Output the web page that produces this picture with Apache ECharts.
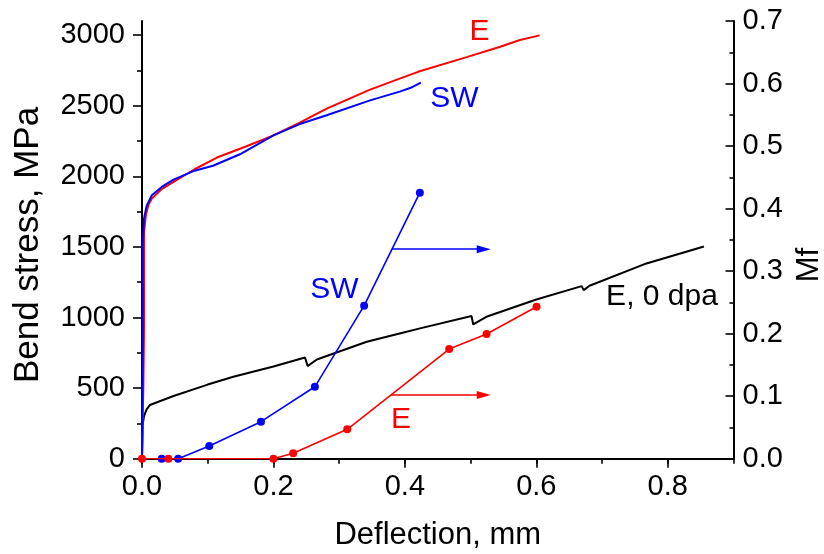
<!DOCTYPE html>
<html>
<head>
<meta charset="utf-8">
<script src="https://cdn.jsdelivr.net/npm/echarts@6/dist/echarts.min.js"></script>
<style>
  html, body { margin: 0; padding: 0; background: #fff; }
  #chart { width: 824px; height: 554px; }
</style>
</head>
<body>
<div id="chart"></div>
<script>
// Bend stress vs deflection (left axis) and martensite fraction Mf (right axis)

// Stress curves, [deflection mm, stress MPa]
const stressE = [
  [0, 0], [0.002, 500], [0.003, 900], [0.003, 1300], [0.003, 1600], [0.006, 1730],
  [0.010, 1800], [0.015, 1842], [0.030, 1910], [0.048, 1960], [0.080, 2050],
  [0.114, 2133], [0.160, 2215], [0.200, 2290], [0.240, 2380], [0.281, 2479],
  [0.347, 2614], [0.392, 2692], [0.420, 2740], [0.494, 2844], [0.545, 2918],
  [0.575, 2965], [0.605, 2998]
];
const stressSW = [
  [0, 0], [0.001, 800], [0.001, 1500], [0.003, 1700], [0.007, 1790], [0.015, 1866],
  [0.030, 1925], [0.048, 1977], [0.080, 2040], [0.108, 2075], [0.149, 2156],
  [0.200, 2290], [0.240, 2370], [0.281, 2432], [0.347, 2538], [0.392, 2600],
  [0.408, 2625], [0.4243, 2663]
];
const stressE0dpa = [
  [0, 0], [0.001, 240], [0.003, 300], [0.007, 350], [0.012, 380], [0.048, 444],
  [0.100, 525], [0.139, 580], [0.200, 653], [0.248, 717], [0.252, 656],
  [0.266, 703], [0.342, 828], [0.392, 887], [0.423, 923], [0.5014, 1010],
  [0.504, 951], [0.524, 1005], [0.600, 1128], [0.669, 1222], [0.672, 1194],
  [0.681, 1225], [0.7676, 1383], [0.855, 1503]
];

// Martensite fraction, [deflection mm, Mf]
const mfSW = [
  [0.030, 0], [0.055, 0], [0.1024, 0.0203], [0.181, 0.0592], [0.263, 0.115],
  [0.338, 0.2447], [0.4228, 0.4254]
];
const mfE = [
  [0, 0], [0.040, 0], [0.200, 0], [0.230, 0.0086], [0.3123, 0.047],
  [0.4674, 0.1754], [0.5243, 0.1994], [0.6003, 0.243]
];

// Arrows pointing toward the Mf axis: [Mf level, start deflection, end deflection]
const arrowSW = [0.335, 0.3804, 0.52];
const arrowE = [0.102, 0.3787, 0.52];

// Stress-axis tick values
const yMajor = [0, 500, 1000, 1500, 2000, 2500, 3000];
const yMinor = [250, 750, 1250, 1750, 2250, 2750];

const FONT = "'Liberation Sans', Arial, Helvetica, sans-serif";
const RED = '#ff0000';
const BLUE = '#0000ff';
const BLACK = '#000000';

const chart = echarts.init(document.getElementById('chart'), null, { renderer: 'canvas' });

function arrowLine(a, color) {
  return {
    silent: true,
    symbol: ['none', 'triangle'],
    symbolSize: [8, 14],
    label: { show: false },
    lineStyle: { color: color, width: 1.6, type: 'solid' },
    emphasis: { disabled: true },
    data: [[{ coord: [a[1], a[0]] }, { coord: [a[2], a[0]] }]]
  };
}

function tickStyle() {
  return { color: BLACK, width: 1.6 };
}

const option = {
  animation: false,
  backgroundColor: '#ffffff',
  textStyle: { fontFamily: FONT },
  grid: { left: 142, right: 90.5, top: 21, bottom: 95.3, outerBoundsMode: 'none', containLabel: false },
  xAxis: [
    {
      // minor ticks every 0.1 (the long major ticks are drawn over them)
      type: 'value', min: 0, max: 0.9, interval: 0.1, position: 'bottom',
      axisLine: { show: false, onZero: false },
      axisTick: { show: true, length: 5, lineStyle: tickStyle() },
      axisLabel: { show: false },
      splitLine: { show: false }
    },
    {
      type: 'value', min: 0, max: 0.9, interval: 0.2, position: 'bottom',
      name: 'Deflection, mm', nameLocation: 'middle', nameGap: 61,
      nameTextStyle: { fontSize: 31, color: BLACK, fontFamily: FONT },
      axisLine: { show: true, onZero: false, lineStyle: { color: BLACK, width: 2 } },
      axisTick: { show: true, length: 9, lineStyle: tickStyle() },
      axisLabel: { fontSize: 29, color: BLACK, fontFamily: FONT, margin: 14,
        showMaxLabel: false, formatter: v => v.toFixed(1) },
      splitLine: { show: false }
    }
  ],
  yAxis: [
    {
      type: 'value', min: 0, max: 3100, position: 'left',
      axisLine: { show: true, onZero: false, lineStyle: { color: BLACK, width: 2 } },
      axisTick: { show: true, customValues: yMajor, length: 9, lineStyle: tickStyle() },
      axisLabel: { customValues: yMajor, fontSize: 29, color: BLACK, fontFamily: FONT, margin: 17,
        formatter: v => String(v) },
      splitLine: { show: false }
    },
    {
      type: 'value', min: 0, max: 0.7, interval: 0.1, position: 'right',
      axisLine: { show: true, onZero: false, lineStyle: { color: BLACK, width: 2 } },
      axisTick: { show: true, inside: true, length: 8, lineStyle: tickStyle() },
      minorTick: { show: true, splitNumber: 2, length: 4, lineStyle: tickStyle() },
      axisLabel: { fontSize: 29, color: BLACK, fontFamily: FONT, margin: 9,
        formatter: v => v.toFixed(1) },
      splitLine: { show: false }
    },
    {
      // minor ticks of the stress axis
      type: 'value', min: 0, max: 3100, position: 'left',
      axisLine: { show: false, onZero: false },
      axisTick: { show: true, customValues: yMinor, length: 5, lineStyle: tickStyle() },
      axisLabel: { show: false },
      splitLine: { show: false }
    }
  ],
  series: [
    {
      name: 'E, 0 dpa', type: 'line', xAxisIndex: 1, yAxisIndex: 0, data: stressE0dpa,
      showSymbol: false, symbol: 'none', lineStyle: { color: BLACK, width: 2 }, z: 2
    },
    {
      name: 'E stress', type: 'line', xAxisIndex: 1, yAxisIndex: 0, data: stressE,
      showSymbol: false, symbol: 'none', lineStyle: { color: RED, width: 2 }, z: 3
    },
    {
      name: 'SW stress', type: 'line', xAxisIndex: 1, yAxisIndex: 0, data: stressSW,
      showSymbol: false, symbol: 'none', lineStyle: { color: BLUE, width: 2 }, z: 4
    },
    {
      name: 'SW Mf', type: 'line', xAxisIndex: 1, yAxisIndex: 1, data: mfSW,
      symbol: 'circle', symbolSize: 8, itemStyle: { color: BLUE },
      lineStyle: { color: BLUE, width: 1.6 }, z: 5,
      markLine: arrowLine(arrowSW, BLUE)
    },
    {
      name: 'E Mf', type: 'line', xAxisIndex: 1, yAxisIndex: 1, data: mfE,
      symbol: 'circle', symbolSize: 8, itemStyle: { color: RED },
      lineStyle: { color: RED, width: 1.6 }, z: 6,
      markLine: arrowLine(arrowE, RED)
    }
  ],
  graphic: [
    // axis titles
    { type: 'text', x: 28, y: 245, rotation: Math.PI / 2,
      style: { text: 'Bend stress, MPa', fill: BLACK, font: `35px ${FONT}`, textAlign: 'center', textVerticalAlign: 'middle' } },
    { type: 'text', x: 809, y: 265, rotation: Math.PI / 2,
      style: { text: 'Mf', fill: BLACK, font: `31px ${FONT}`, textAlign: 'center', textVerticalAlign: 'middle' } },
    // curve annotations
    { type: 'text', x: 479.5, y: 32, style: { text: 'E', fill: RED, font: `30px ${FONT}`, textAlign: 'center', textVerticalAlign: 'middle' } },
    { type: 'text', x: 454.5, y: 98.5, style: { text: 'SW', fill: BLUE, font: `30px ${FONT}`, textAlign: 'center', textVerticalAlign: 'middle' } },
    { type: 'text', x: 334.5, y: 290, style: { text: 'SW', fill: BLUE, font: `30px ${FONT}`, textAlign: 'center', textVerticalAlign: 'middle' } },
    { type: 'text', x: 401, y: 419.5, style: { text: 'E', fill: RED, font: `30px ${FONT}`, textAlign: 'center', textVerticalAlign: 'middle' } },
    { type: 'text', x: 662, y: 297, style: { text: 'E, 0 dpa', fill: BLACK, font: `30px ${FONT}`, textAlign: 'center', textVerticalAlign: 'middle' } }
  ]
};

chart.setOption(option);
</script>
</body>
</html>
